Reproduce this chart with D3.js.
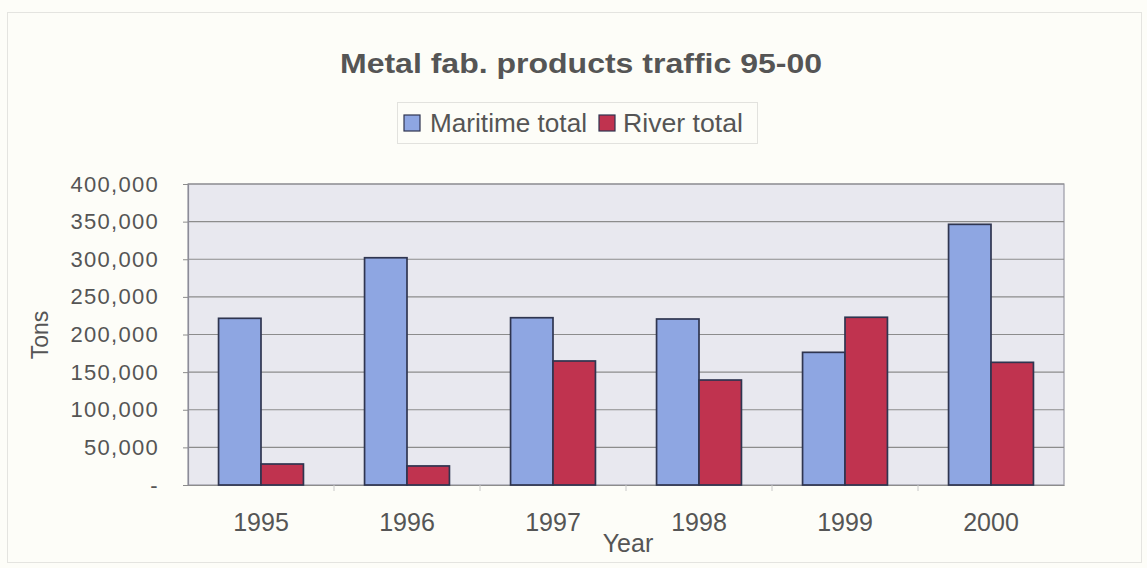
<!DOCTYPE html>
<html>
<head>
<meta charset="utf-8">
<script src="https://cdn.jsdelivr.net/npm/d3@7"></script>
<style>
  html, body { margin: 0; padding: 0; background: #fdfdf8; }
  svg { display: block; }
  text { font-family: "Liberation Sans", Arial, sans-serif; fill: #555; }
</style>
</head>
<body>
<svg id="chart" width="1147" height="568"></svg>
<script>
const years = ["1995", "1996", "1997", "1998", "1999", "2000"];
const seriesNames = ["Maritime total", "River total"];
const maritime = [221500, 302000, 222300, 220600, 176300, 346400];
const river = [27900, 25300, 164800, 139500, 222900, 163000];
const yTicks = [0, 50000, 100000, 150000, 200000, 250000, 300000, 350000, 400000];
const colors = ["#8ea6e2", "#c0334f"];

const svg = d3.select("#chart");
const W = 1147, H = 568;
const plot = { left: 188, right: 1064, top: 184, bottom: 485 };

// background + faint outer frame
svg.append("rect").attr("x", 0).attr("y", 0).attr("width", W).attr("height", H).attr("fill", "#fdfdf8");
svg.append("rect").attr("x", 7.5).attr("y", 12.5).attr("width", 1134).attr("height", 550)
  .attr("fill", "none").attr("stroke", "#e4e4e0").attr("stroke-width", 1);

const x0 = d3.scaleBand().domain(years).range([plot.left, plot.right]).padding(0);
const x1 = d3.scaleBand().domain(seriesNames).range([0, x0.bandwidth()]).paddingInner(0).paddingOuter(0.72);
const y = d3.scaleLinear().domain([0, 400000]).range([plot.bottom, plot.top]);

// plot background
svg.append("rect")
  .attr("x", plot.left).attr("y", plot.top)
  .attr("width", plot.right - plot.left).attr("height", plot.bottom - plot.top)
  .attr("fill", "#e8e8ef").attr("stroke", "#9a9aa6").attr("stroke-width", 1.2);

// gridlines
svg.append("g").selectAll("line").data(yTicks.filter(d => d > 0)).join("line")
  .attr("x1", plot.left).attr("x2", plot.right)
  .attr("y1", d => y(d)).attr("y2", d => y(d))
  .attr("stroke", "#8c8c8c").attr("stroke-width", 1.2);

// y axis
const fmt = d3.format(",");
const yAxis = d3.axisLeft(y).tickValues(yTicks).tickSize(5).tickPadding(24)
  .tickFormat(d => d === 0 ? "-" : fmt(d));
const gy = svg.append("g").attr("transform", `translate(${plot.left},0)`).call(yAxis);
gy.select(".domain").attr("stroke", "#8c8c98").attr("stroke-width", 1.2);
gy.selectAll(".tick line").attr("stroke", "#8c8c8c");
gy.selectAll(".tick text").attr("font-size", 22).attr("letter-spacing", "1.3px")
  .attr("fill", "#5a5a5a").attr("font-family", "Liberation Sans, Arial, sans-serif");

// x axis
const xAxis = d3.axisBottom(x0).tickSize(0).tickPadding(28);
const gx = svg.append("g").attr("transform", `translate(0,${plot.bottom})`).call(xAxis);
gx.select(".domain").attr("stroke", "#8c8c8c").attr("stroke-width", 1.2);
gx.selectAll(".tick text").attr("font-size", 25).attr("fill", "#5a5a5a")
  .attr("font-family", "Liberation Sans, Arial, sans-serif");
// category separator ticks
svg.append("g").selectAll("line").data(years.slice(1)).join("line")
  .attr("x1", d => x0(d)).attr("x2", d => x0(d))
  .attr("y1", plot.bottom).attr("y2", plot.bottom + 6)
  .attr("stroke", "#c8c8c8").attr("stroke-width", 1);

// bars
const groups = svg.append("g").selectAll("g").data(years).join("g")
  .attr("transform", d => `translate(${x0(d)},0)`);
groups.selectAll("rect")
  .data((d, i) => [
    { key: seriesNames[0], value: maritime[i], c: colors[0] },
    { key: seriesNames[1], value: river[i], c: colors[1] }
  ])
  .join("rect")
  .attr("x", d => x1(d.key))
  .attr("y", d => y(d.value))
  .attr("width", x1.bandwidth())
  .attr("height", d => y(0) - y(d.value))
  .attr("fill", d => d.c)
  .attr("stroke", "#2f3550").attr("stroke-width", 1.7);

// title
svg.append("text").attr("x", 581).attr("y", 73).attr("text-anchor", "middle")
  .attr("font-size", 28).attr("font-weight", "bold").attr("fill", "#4a4a4a")
  .attr("textLength", 482).attr("lengthAdjust", "spacingAndGlyphs")
  .text("Metal fab. products traffic 95-00");

// legend
const lg = svg.append("g");
lg.append("rect").attr("x", 397.5).attr("y", 102.5).attr("width", 360).attr("height", 41)
  .attr("fill", "none").attr("stroke", "#e2e2de").attr("stroke-width", 1);
const legendItems = [
  { name: seriesNames[0], c: colors[0], sx: 404, tx: 430, len: 157 },
  { name: seriesNames[1], c: colors[1], sx: 599, tx: 623, len: 120 }
];
legendItems.forEach(it => {
  lg.append("rect").attr("x", it.sx).attr("y", 115).attr("width", 16).attr("height", 16)
    .attr("fill", it.c).attr("stroke", "#2f3550").attr("stroke-width", 1.2);
  lg.append("text").attr("x", it.tx).attr("y", 132).attr("font-size", 25).attr("fill", "#555")
    .attr("textLength", it.len).attr("lengthAdjust", "spacingAndGlyphs")
    .text(it.name);
});

// axis titles
svg.append("text").attr("x", 628).attr("y", 552).attr("text-anchor", "middle")
  .attr("font-size", 25).attr("fill", "#555").text("Year");
svg.append("text").attr("transform", "translate(48,335) rotate(-90)").attr("text-anchor", "middle")
  .attr("font-size", 23).attr("fill", "#555").text("Tons");
</script>
</body>
</html>
